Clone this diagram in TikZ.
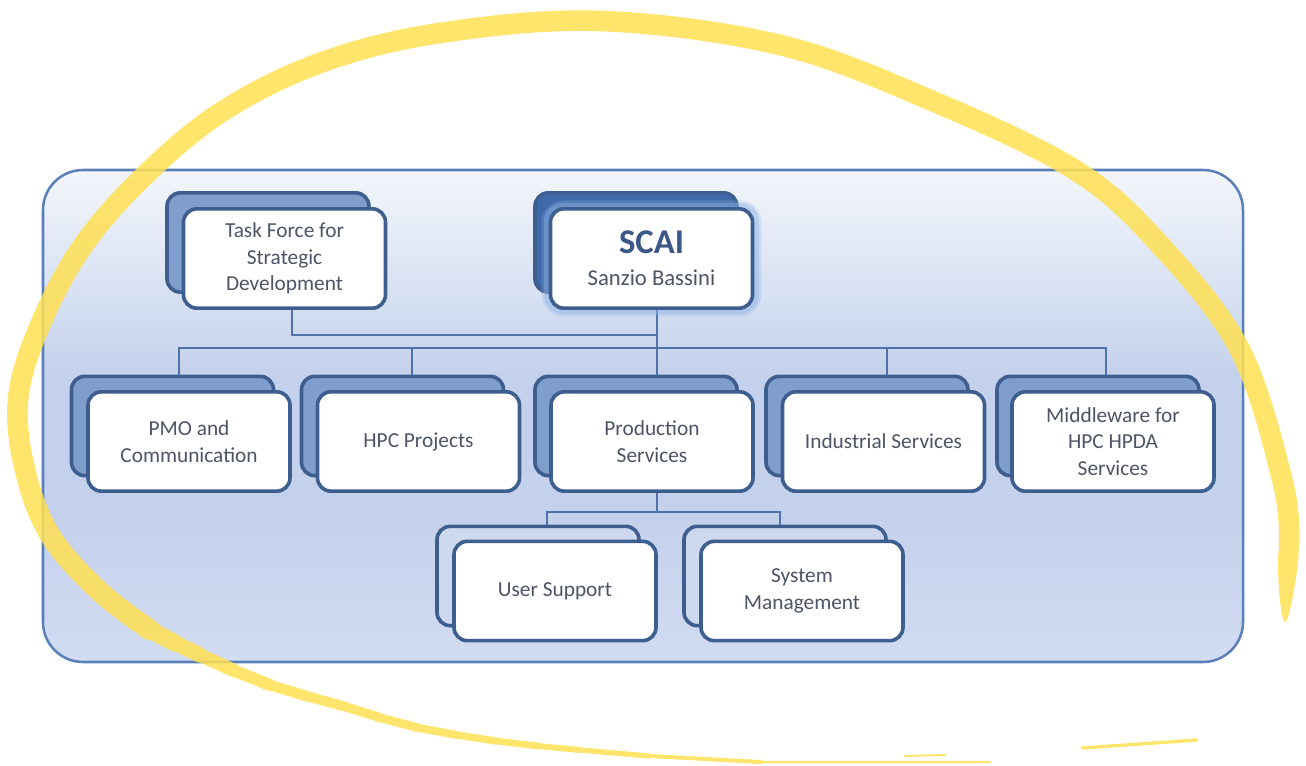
\documentclass[tikz,border=0pt]{standalone}
\usepackage{fontspec}
\setmainfont{Carlito}
\usetikzlibrary{calc}

\definecolor{cardline}{RGB}{61,94,142}
\definecolor{backfill}{RGB}{127,158,205}
\definecolor{headback}{RGB}{63,105,169}
\definecolor{lowback}{RGB}{206,217,239}
\definecolor{frameline}{RGB}{91,128,185}
\definecolor{linkc}{RGB}{79,114,170}
\definecolor{txt}{RGB}{76,84,102}
\definecolor{titletxt}{RGB}{59,87,135}
\definecolor{glowc}{RGB}{143,179,232}
\definecolor{marker}{RGB}{255,224,82}
\definecolor{bgtop}{RGB}{243,246,251}
\definecolor{bgup}{RGB}{214,224,242}
\definecolor{bgmid}{RGB}{196,209,236}
\definecolor{bgbot}{RGB}{210,220,242}

% panel gradient: pale at the top, deeper blue in the middle, lighter at the foot
\pgfdeclareverticalshading{panel}{100bp}{
  color(0bp)=(bgbot); color(25bp)=(bgbot); color(40bp)=(bgmid);
  color(54bp)=(bgmid); color(62bp)=(bgup); color(75bp)=(bgtop); color(100bp)=(bgtop)}

\tikzset{
  card/.style={draw=cardline, line width=2.7pt, fill=white, rounded corners=10pt,
    minimum width=151.5pt, minimum height=74.5pt, inner sep=0pt,
    align=center, text=txt, font=\fontsize{16}{20}\selectfont},
  backcard/.style={card, fill=backfill},
  headcard/.style={card, fill=headback},
  lowcard/.style={card, fill=lowback},
  link/.style={draw=linkc, line width=1.1pt},
  hl/.style={draw=marker, line cap=round, line join=round},
}

\begin{document}
\begin{tikzpicture}[x=0.75pt, y=-0.75pt]
\useasboundingbox (0,0) rectangle (1306,766);

% container panel
\shade[shading=panel, rounded corners=30pt] (43,170) rectangle (1243,662);
\draw[frameline, line width=1.9pt, rounded corners=30pt] (43,170) rectangle (1243,662);

% back cards
\node[backcard] (tfB)   at (268,242.5) {};
\node[headcard] (scaiB) at (636,242.5) {};
\node[backcard] (pmoB)  at (172.5,426) {};
\node[backcard] (hpcB)  at (402.5,426) {};
\node[backcard] (prodB) at (636,426) {};
\node[backcard] (indB)  at (867,426) {};
\node[backcard] (midB)  at (1098,426) {};
\node[lowcard]  (usB)   at (538,576) {};
\node[lowcard]  (smB)   at (785,576) {};

% connectors
\coordinate (jtf) at (657,335);
\coordinate (bus) at (657,348);
\coordinate (pbus) at (657,512);
\draw[link] (tfB.south -| 292,0) ++(0,16) |- (jtf);
\draw[link] (scaiB.south -| 657,0) ++(0,16) -- (bus);
\draw[link] (bus) -| (pmoB.north -| 179,0);
\draw[link] (bus) -| (hpcB.north -| 412,0);
\draw[link] (bus) -- (prodB.north -| 657,0);
\draw[link] (bus) -| (indB.north -| 887,0);
\draw[link] (bus) -| (midB.north -| 1106,0);
\draw[link] (prodB.south -| 657,0) ++(0,16) -- (pbus);
\draw[link] (pbus) -| (usB.north -| 547,0);
\draw[link] (pbus) -| (smB.north -| 780,0);

% halo around the head card
\draw[glowc, opacity=0.25, line width=10pt, rounded corners=12pt] (548,207) rectangle (755,310);
\draw[glowc, opacity=0.4, line width=6pt, rounded corners=11pt] (548,207) rectangle (755,310);

% front cards
\node[card] (tf) at (284.5,258.5) {Task Force for\\Strategic\\Development};
\node[card] (scai) at (651.5,258.5)
  {{\fontsize{26}{28}\selectfont\bfseries\color{titletxt}SCAI}\\[4pt]{\fontsize{17}{20}\selectfont Sanzio Bassini}};
\node[card] (pmo)  at (189,441.5)   {PMO and\\Communication};
\node[card] (hpc)  at (418.5,441.5) {HPC Projects};
\node[card] (prod) at (652,441.5)   {Production\\Services};
\node[card] (ind)  at (883.5,441.5) {Industrial Services};
\node[card] (mid)  at (1113,441.5)  {Middleware for\\HPC HPDA\\Services};
\node[card] (us)   at (555,591)     {User Support};
\node[card] (sm)   at (802,591)     {System\\Management};

% hand-drawn highlighter loop
\begin{scope}[transparency group, opacity=0.85]
  \draw[hl, line width=15.5pt] plot[smooth, tension=0.6] coordinates {
    (1289,545) (1283,483) (1240,350) (1160,245) (1075,170) (930,100) (780,45)
    (600,21) (440,33) (320,63) (220,113) (140,180) (80,250) (38,330) (18,400)
    (25,470) (50,535) (98,590) (150,630)};
  \fill[marker] plot[smooth cycle, tension=0.6] coordinates {
    (1280,545) (1298,545) (1294,590) (1285,622) (1279,590)};
  % brush thinning out along the bottom
  \draw[hl, line width=13pt]  (150,630) -- (175,643);
  \draw[hl, line width=11.5pt] (175,643) -- (200,655);
  \draw[hl, line width=10pt]  (200,655) -- (235,671);
  \draw[hl, line width=9pt]   (235,671) -- (270,685);
  \draw[hl, line width=8pt]   (270,685) -- (306,696);
  \draw[hl, line width=7.5pt] (306,696) -- (343,706);
  \draw[hl, line width=7pt]   (343,706) -- (381,718);
  \draw[hl, line width=6.5pt] (381,718) -- (419,728);
  \draw[hl, line width=6pt]   (419,728) -- (457,735);
  \draw[hl, line width=5.5pt] (457,735) -- (496,741);
  \draw[hl, line width=5pt]   (496,741) -- (538,746);
  \draw[hl, line width=4.5pt] (538,746) -- (580,750);
  \draw[hl, line width=4pt]   (580,750) -- (649,756);
  \draw[hl, line width=3pt]   (649,756) -- (761,762);
  \draw[hl, line width=1.8pt] (761,762) -- (990,762);
  \draw[hl, line width=1.5pt] (905,756) -- (945,755);
  \draw[hl, line width=2.5pt] (1082,748) -- (1197,740);
\end{scope}
\end{tikzpicture}
\end{document}
